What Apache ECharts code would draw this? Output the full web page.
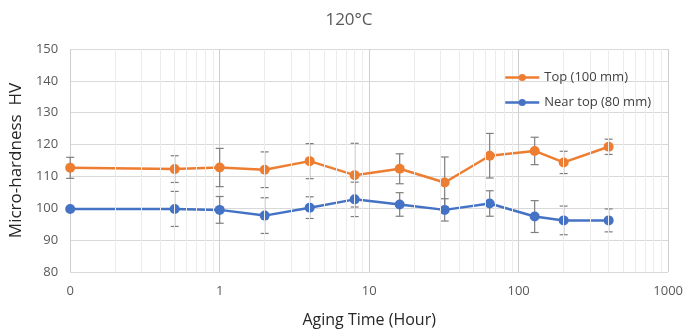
<!DOCTYPE html>
<html>
<head>
<meta charset="utf-8">
<script src="https://cdn.jsdelivr.net/npm/echarts@6/dist/echarts.min.js"></script>
<style>
  html, body { margin: 0; padding: 0; background: #fff; }
  #chart { width: 686px; height: 335px; }
</style>
</head>
<body>
<div id="chart"></div>
<script>
// aging time (h); 0 h is drawn at 0.1 on the log axis and labelled "0"
const hours = [0.1, 0.5, 1, 2, 4, 8, 16, 32, 64, 128, 200, 400];

const topHv = [112.7, 112.3, 112.8, 112.1, 114.8, 110.4, 112.4, 108.1, 116.5, 118.0, 114.4, 119.3];
const topErr = [3.3, 4.2, 6.0, 5.6, 5.5, 10.0, 4.7, 8.0, 7.0, 4.3, 3.5, 2.4];

const nearHv = [99.8, 99.8, 99.5, 97.7, 100.2, 102.8, 101.2, 99.5, 101.5, 97.4, 96.2, 96.2];
const nearErr = [0, 5.5, 4.2, 5.6, 3.4, 5.4, 3.7, 3.5, 4.0, 5.0, 4.5, 3.6];

const minorTicks = [0.2, 0.3, 0.4, 0.5, 0.6, 0.7, 0.8, 0.9,
  2, 3, 4, 5, 6, 7, 8, 9, 20, 30, 40, 50, 60, 70, 80, 90,
  200, 300, 400, 500, 600, 700, 800, 900];

const chart = echarts.init(document.getElementById('chart'));

function errData(vals, errs) {
  return hours.map((h, i) => [h, vals[i] - errs[i], vals[i] + errs[i]]);
}

function renderErr(params, api) {
  const lo = api.coord([api.value(0), api.value(1)]);
  const hi = api.coord([api.value(0), api.value(2)]);
  const w = 4;
  const style = { stroke: '#7f7f7f', lineWidth: 1.2 };
  return {
    type: 'group',
    children: [
      { type: 'line', shape: { x1: lo[0], y1: lo[1], x2: hi[0], y2: hi[1] }, style },
      { type: 'line', shape: { x1: lo[0] - w, y1: lo[1], x2: lo[0] + w, y2: lo[1] }, style },
      { type: 'line', shape: { x1: hi[0] - w, y1: hi[1], x2: hi[0] + w, y2: hi[1] }, style }
    ]
  };
}

const font = 'Open Sans, Noto Sans, sans-serif';

chart.setOption({
  animation: false,
  title: {
    text: '120°C',
    left: 344,
    textAlign: 'center',
    top: 7,
    textStyle: { fontFamily: font, fontSize: 17, fontWeight: 'normal', color: '#595959' }
  },
  legend: {
    orient: 'vertical',
    left: 499,
    top: 66,
    z: 20,
    itemWidth: 34,
    itemHeight: 9,
    itemGap: 12,
    itemStyle: { borderWidth: 0 },
    lineStyle: { width: 2.5 },
    data: ['Top (100 mm)', 'Near top (80 mm)'],
    textStyle: { fontFamily: font, fontSize: 13, color: '#404040' }
  },
  grid: { left: 68, right: 15, top: 49, bottom: 63 },
  xAxis: {
    type: 'log',
    logBase: 10,
    min: 0.1,
    max: 1000,
    name: 'Aging Time (Hour)',
    nameLocation: 'middle',
    nameGap: 40,
    nameTextStyle: { fontFamily: font, fontSize: 16, color: '#262626' },
    axisLine: { show: false },
    axisTick: { show: false },
    axisLabel: {
      fontFamily: font, fontSize: 13, color: '#595959', margin: 13,
      formatter: v => (v < 0.5 ? '0' : String(Math.round(v)))
    },
    splitLine: { show: true, lineStyle: { color: '#cfcfcf', width: 1 } }
  },
  yAxis: {
    type: 'value',
    min: 80,
    max: 150,
    interval: 10,
    name: 'Micro-hardness  HV',
    nameLocation: 'middle',
    nameGap: 45,
    nameTextStyle: { fontFamily: font, fontSize: 17, color: '#262626' },
    axisLine: { show: false },
    axisTick: { show: false },
    axisLabel: { fontFamily: font, fontSize: 13, color: '#595959', margin: 12 },
    splitLine: { lineStyle: { color: '#d9d9d9', width: 1 } }
  },
  series: [
    {
      type: 'line',
      name: 'minor',
      data: [],
      silent: true,
      markLine: {
        silent: true,
        symbol: 'none',
        label: { show: false },
        lineStyle: { color: '#ececec', width: 1, type: 'solid' },
        data: minorTicks.map(v => ({ xAxis: v }))
      },
      z: 0,
      zlevel: 0
    },
    {
      type: 'custom',
      name: 'Top (100 mm) err',
      renderItem: renderErr,
      data: errData(topHv, topErr),
      encode: { x: 0, y: [1, 2] },
      z: 1
    },
    {
      type: 'custom',
      name: 'Near top (80 mm) err',
      renderItem: renderErr,
      data: errData(nearHv, nearErr),
      encode: { x: 0, y: [1, 2] },
      z: 1
    },
    {
      type: 'line',
      name: 'Top (100 mm)',
      data: hours.map((h, i) => [h, topHv[i]]),
      color: '#ED7D31',
      symbol: 'circle',
      symbolSize: 10,
      itemStyle: { color: '#ED7D31', borderWidth: 0 },
      lineStyle: { width: 2.5, color: '#ED7D31' },
      z: 3
    },
    {
      type: 'line',
      name: 'Near top (80 mm)',
      data: hours.map((h, i) => [h, nearHv[i]]),
      color: '#4472C4',
      symbol: 'circle',
      symbolSize: 10,
      itemStyle: { color: '#4472C4', borderWidth: 0 },
      lineStyle: { width: 2.5, color: '#4472C4' },
      z: 3
    }
  ]
});
</script>
</body>
</html>
